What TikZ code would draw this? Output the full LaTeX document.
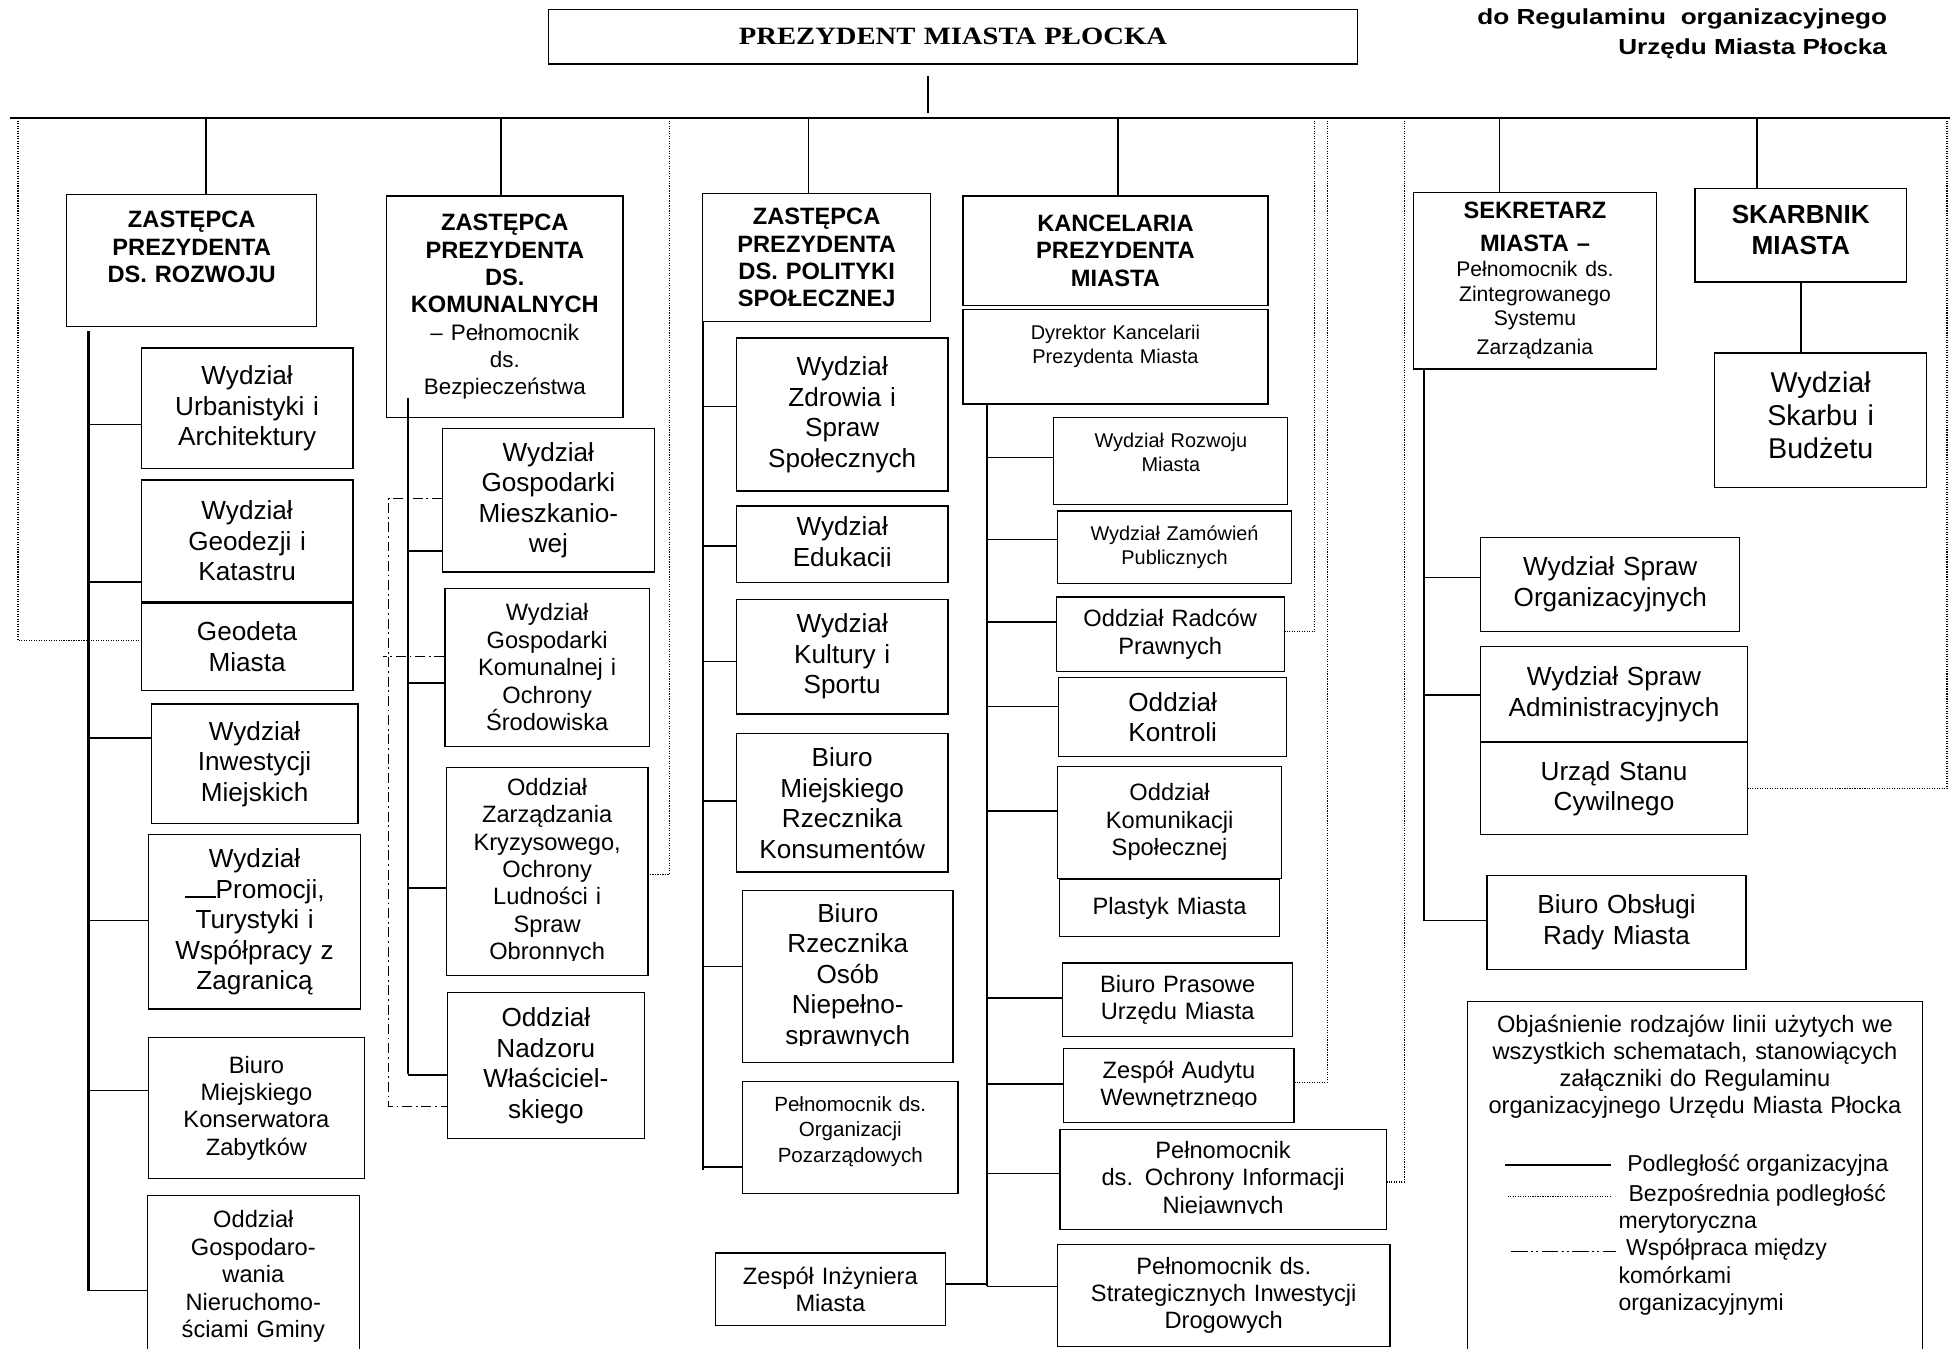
\documentclass[tikz,border=0pt]{standalone}
\usepackage{fontspec}
\setmainfont{Liberation Sans}
\newfontfamily\titlefont[FakeStretch=1.15]{Liberation Serif}
\newfontfamily\annexfont[FakeStretch=1.2]{Liberation Sans}
\usetikzlibrary{positioning}

\begin{document}
\begin{tikzpicture}[
    x=1pt, y=-1pt,
    unit node/.style={draw, line width=1pt, inner sep=0pt, align=center, anchor=north west},
    box size/.style 2 args={text width=#1, minimum height=#2},
    big text/.style={font=\fontsize{21}{24.5}\selectfont},
    mid text/.style={font=\fontsize{19}{22}\selectfont},
    small text/.style={font=\fontsize{16}{19}\selectfont},
    head text/.style={font=\bfseries\fontsize{19}{22}\selectfont},
    link/.style={line width=1.3pt},
    spine/.style={line width=1.8pt},
    merit/.style={line width=0.9pt, dash pattern=on 0.9pt off 1.1pt},
    coop/.style={line width=1pt, dash pattern=on 8pt off 3pt on 1.5pt off 3pt}
]
    \useasboundingbox (0,0) rectangle (1568,1083);
    \clip (0,0) rectangle (1568,1083);

    \node[unit node, box size={650pt}{44pt}, font=\titlefont\bfseries\fontsize{20}{22}\selectfont] (prez) at (440,7) {PREZYDENT MIASTA PŁOCKA};
    \node[anchor=north east, align=right, inner sep=0pt, font=\annexfont\bfseries\fontsize{17.5}{24}\selectfont] (annex) at (1516,6.8) {do Regulaminu\ \ organizacyjnego\\Urzędu Miasta Płocka};

    % bus, spines and free ends
    \coordinate (busL) at (8,95);
    \coordinate (busR) at (1566,95);
    \coordinate (s1t) at (71,266);    \coordinate (s1b) at (71,1037);
    \coordinate (s2t) at (328,320);   \coordinate (s2b) at (328,863);
    \coordinate (s3t) at (565,258);   \coordinate (s3b) at (565,940);
    \coordinate (s4t) at (793,324);   \coordinate (s4b) at (793,1033);
    \coordinate (s5t) at (1144,296);  \coordinate (s5b) at (1144,740);
    \coordinate (d1) at (14.5,95);  \coordinate (d2) at (537.5,95);
    \coordinate (d3) at (1056,95);  \coordinate (d4) at (1066,95);
    \coordinate (d5) at (1128,95);  \coordinate (d6) at (1564,95);
    \coordinate (c2) at (312,600);

    % rozwoj
    \node[unit node, box size={201pt}{106pt}, head text, text depth=66.4pt] (rozwoj) at (53,156) {ZASTĘPCA\\PREZYDENTA\\DS. ROZWOJU};
    \node[unit node, box size={170pt}{97pt}, big text] (urban) at (113,279) {Wydział\\Urbanistyki i\\Architektury};
    \node[unit node, box size={170pt}{98pt}, big text] (geodez) at (113,385) {Wydział\\Geodezji i\\Katastru};
    \node[unit node, box size={170pt}{70pt}, big text, below=0pt of geodez] (geodeta) {Geodeta\\Miasta};
    \node[unit node, box size={166pt}{96pt}, big text] (inwest) at (121,565) {Wydział\\Inwestycji\\Miejskich};
    \node[unit node, box size={170pt}{140pt}, big text] (promo) at (119,670) {Wydział\\\rule{25pt}{1.3pt}Promocji,\\Turystyki i\\Współpracy z\\Zagranicą};
    \node[unit node, box size={173pt}{113pt}, mid text] (konserw) at (119,833) {Biuro\\Miejskiego\\Konserwatora\\Zabytków};
    \node[unit node, box size={170pt}{130pt}, mid text] (gosp) at (118,960) {Oddział\\Gospodaro-\\wania\\Nieruchomo-\\ściami Gminy};

    % komunalne
    \node[unit node, box size={190pt}{178pt}, font=\fontsize{19}{22}\selectfont] (komunal) at (310,157) {\bfseries ZASTĘPCA\\PREZYDENTA\\DS.\\KOMUNALNYCH\\\mdseries\fontsize{18}{22}\selectfont – Pełnomocnik\\ds.\\Bezpieczeństwa};
    \node[unit node, box size={170pt}{115pt}, big text] (mieszk) at (355,344) {Wydział\\Gospodarki\\Mieszkanio-\\wej};
    \node[unit node, box size={164pt}{127pt}, mid text] (komun) at (357,472) {Wydział\\Gospodarki\\Komunalnej i\\Ochrony\\Środowiska};
    \node[unit node, box size={162pt}{167pt}, mid text] (kryzys) at (358,616) {Oddział\\Zarządzania\\Kryzysowego,\\Ochrony\\Ludności i\\Spraw\\Obronnych};
    \node[unit node, box size={158pt}{117pt}, big text] (nadzor) at (359,797) {Oddział\\Nadzoru\\Właściciel-\\skiego};

    % polityka spoleczna
    \node[unit node, box size={183pt}{103pt}, head text] (polit) at (564,155) {ZASTĘPCA\\PREZYDENTA\\DS. POLITYKI\\SPOŁECZNEJ};
    \node[unit node, box size={170pt}{123pt}, big text] (zdrow) at (591,271) {Wydział\\Zdrowia i\\Spraw\\Społecznych};
    \node[unit node, box size={170pt}{61pt}, big text] (eduk) at (591,406) {Wydział\\Edukacji};
    \node[unit node, box size={170pt}{92pt}, big text] (kult) at (591,481) {Wydział\\Kultury i\\Sportu};
    \node[unit node, box size={170pt}{111pt}, big text] (konsum) at (591,589) {Biuro\\Miejskiego\\Rzecznika\\Konsumentów};
    \node[unit node, box size={169pt}{138pt}, big text] (niepel) at (596,715) {Biuro\\Rzecznika\\Osób\\Niepełno-\\sprawnych};
    \node[unit node, box size={173pt}{90pt}, font=\fontsize{16.5}{20.5}\selectfont, text depth=53.5pt] (pozarz) at (596,868) {Pełnomocnik ds.\\Organizacji\\Pozarządowych};
    \node[unit node, box size={185pt}{58pt}, mid text] (inzyn) at (574,1006) {Zespół Inżyniera\\Miasta};

    % kancelaria
    \node[unit node, box size={245pt}{88pt}, head text] (kanc) at (773,157) {KANCELARIA\\PREZYDENTA\\MIASTA};
    \node[unit node, box size={245pt}{76pt}, small text, text depth=38.4pt] (dyrekt) at (773,248) {Dyrektor Kancelarii\\Prezydenta Miasta};
    \node[unit node, box size={188pt}{70pt}, small text, text depth=33pt] (rozwm) at (846,335) {Wydział Rozwoju\\Miasta};
    \node[unit node, box size={188pt}{58pt}, small text] (zamow) at (849,410) {Wydział Zamówień\\Publicznych};
    \node[unit node, box size={183pt}{60pt}, mid text] (radcow) at (848,479) {Oddział Radców\\Prawnych};
    \node[unit node, box size={183pt}{63pt}, big text] (kontrol) at (850,544) {Oddział\\Kontroli};
    \node[unit node, box size={180pt}{90pt}, mid text] (komunik) at (849,615) {Oddział\\Komunikacji\\Społecznej};
    \node[unit node, box size={177pt}{46pt}, mid text, below=0pt of komunik] (plastyk) {Plastyk Miasta};
    \node[unit node, box size={185pt}{59pt}, mid text] (prasa) at (853,773) {Biuro Prasowe\\Urzędu Miasta};
    \node[unit node, box size={185pt}{59pt}, mid text] (audyt) at (854,842) {Zespół Audytu\\Wewnętrznego};
    \node[unit node, box size={262pt}{80pt}, mid text] (niejaw) at (851,907) {Pełnomocnik\\ds. Ochrony Informacji\\Niejawnych};
    \node[unit node, box size={267pt}{82pt}, mid text] (strateg) at (849,999) {Pełnomocnik ds.\\Strategicznych Inwestycji\\Drogowych};

    % sekretarz
    \node[unit node, box size={195pt}{142pt}, font=\fontsize{19}{23}\selectfont] (sekret) at (1135,154) {\bfseries SEKRETARZ\\[3pt]MIASTA –\\\mdseries\fontsize{17}{20}\selectfont Pełnomocnik ds.\\Zintegrowanego\\Systemu\\Zarządzania};
    \node[unit node, box size={208pt}{76pt}, big text] (sorg) at (1189,431) {Wydział Spraw\\Organizacyjnych};
    \node[unit node, box size={214pt}{76pt}, big text] (sadm) at (1189,519) {Wydział Spraw\\Administracyjnych};
    \node[unit node, box size={214pt}{74pt}, big text, below=0pt of sadm] (usc) {Urząd Stanu\\Cywilnego};
    \node[unit node, box size={208pt}{75pt}, big text] (borm) at (1194,703) {Biuro Obsługi\\Rady Miasta};

    % skarbnik
    \node[unit node, box size={170pt}{75pt}, font=\bfseries\fontsize{21}{25}\selectfont, text depth=34pt] (skarbnik) at (1361,151) {SKARBNIK\\MIASTA};
    \node[unit node, box size={170pt}{108pt}, font=\fontsize{23}{26.5}\selectfont, text depth=61pt] (skarbu) at (1377,283) {Wydział\\Skarbu i\\Budżetu};

    % clipped last lines
    \foreach \n/\h in {eduk/12.3pt, kryzys/12pt, niepel/14pt, audyt/12.8pt, niejaw/12.6pt}
        \fill[white] ([xshift=1pt,yshift=0.6pt]\n.south west) rectangle ([xshift=-1pt,yshift=\h]\n.south east);

    % organizational lines
    \draw[spine] (busL) -- (busR);
    \draw[link, shorten >=4pt] ([xshift=-20pt,yshift=-9pt]prez.south) -- ([xshift=-20pt]prez.south |- busL);
    \foreach \n/\s in {rozwoj/11.5pt, komunal/-3pt, polit/-6.5pt, kanc/2pt, sekret/-28.5pt, skarbnik/-35pt}
        \draw[link] ([xshift=\s]\n.north) -- ([xshift=\s]\n.north |- busL);

    \draw[spine] (s1t) -- (s1b);
    \draw[spine] (s2t) -- (s2b);
    \draw[spine] (s3t) -- (s3b);
    \draw[spine] (s4t) -- (s4b);
    \draw[spine] (s5t) -- (s5b);

    \foreach \n/\s in {urban/-13pt, geodez/-33pt, inwest/20.5pt, promo/1pt, konserw/14pt, gosp/-11pt}
        \draw[link] ([yshift=\s]\n.west) -- ([yshift=\s]\n.west -| s1t);
    \foreach \n/\s in {mieszk/-40.5pt, komun/-12.5pt, kryzys/-13.5pt, nadzor/-7.5pt}
        \draw[link] ([yshift=\s]\n.west) -- ([yshift=\s]\n.west -| s2t);
    \foreach \n/\s in {zdrow/6.5pt, eduk/-1.5pt, kult/-4pt, konsum/1.5pt, niepel/8pt, pozarz/-24pt}
        \draw[link] ([yshift=\s]\n.west) -- ([yshift=\s]\n.west -| s3t);
    \foreach \n/\s in {rozwm/3pt, zamow/6pt, radcow/10pt, kontrol/8.5pt, komunik/9pt, prasa/1.5pt, audyt/1.5pt, niejaw/5pt, strateg/7pt}
        \draw[link] ([yshift=\s]\n.west) -- ([yshift=\s]\n.west -| s4t);
    \draw[link] ([yshift=4pt]inzyn.east) -- ([yshift=4pt]inzyn.east -| s4t);
    \foreach \n/\s in {sorg/5.5pt, sadm/-1pt, borm/1.5pt}
        \draw[link] ([yshift=\s]\n.west) -- ([yshift=\s]\n.west -| s5t);
    \draw[link] (skarbnik.south) -- (skarbnik.south |- skarbu.north);

    % merytoryczna
    \draw[merit] (d1) |- ([yshift=5pt]geodeta.west);
    \draw[merit] (d2) |- ([yshift=-2.5pt]kryzys.east);
    \draw[merit] (d3) |- ([yshift=2pt]radcow.east);
    \draw[merit] (d4) |- ([yshift=2.5pt]audyt.east);
    \draw[merit] (d5) |- ([yshift=-2pt]niejaw.east);
    \draw[merit] (d6) |- (usc.east);

    % wspolpraca
    \draw[coop] ([yshift=1.5pt]mieszk.west) -| (c2) |- ([yshift=-33pt]nadzor.west);
    \draw[coop] ([yshift=8.5pt]komun.west) -- ([xshift=-4pt,yshift=8.5pt]komun.west -| c2);

    % legend
    \node[unit node, box size={366pt}{300pt}] (legend) at (1178,804) {};
    \node[anchor=north, inner sep=0pt, align=center, text width=366pt, font=\fontsize{19}{21.7}\selectfont] (legtitle) at ([yshift=-11pt]legend.north) {Objaśnienie rodzajów linii użytych we\\wszystkich schematach, stanowiących\\załączniki do Regulaminu\\organizacyjnego Urzędu Miasta Płocka};
    \node[anchor=west, inner sep=0pt, font=\fontsize{18.5}{21.8}\selectfont] (leg1) at (1307,936) {Podległość organizacyjna};
    \node[anchor=north west, inner sep=0pt, align=left, font=\fontsize{18.5}{21.8}\selectfont] (leg2) at (1300,951.3) {\hspace*{8pt}Bezpośrednia podległość\\merytoryczna};
    \node[anchor=north west, inner sep=0pt, align=left, font=\fontsize{18.5}{21.8}\selectfont] (leg3) at (1300,995) {\hspace*{6pt}Współpraca między\\komórkami\\organizacyjnymi};
    \draw[link] (1209,936) -- (1294,936);
    \draw[merit] (1211,961) -- (1294,961);
    \draw[line width=1pt, dash pattern=on 13pt off 3pt on 1.5pt off 2.5pt on 1.5pt off 3pt] (1214,1005) -- (1298,1005);
\end{tikzpicture}
\end{document}
